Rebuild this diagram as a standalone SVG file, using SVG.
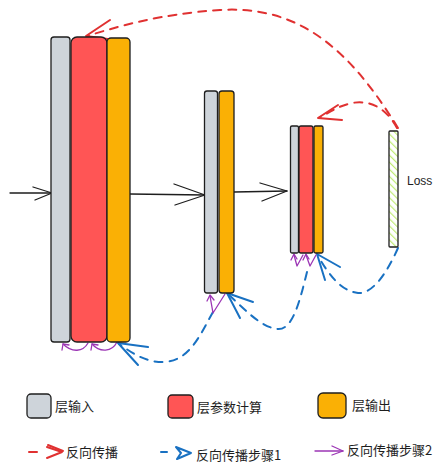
<svg xmlns="http://www.w3.org/2000/svg" width="444" height="475" viewBox="0 0 444 475">
<style>
.box{stroke:#1e1e1e;stroke-width:1.3;stroke-linejoin:round}
.gray{fill:#ced4da}
.red{fill:#ff5555}
.orange{fill:#fab005}
.hatch{fill:url(#hatch)}
.blk{fill:none;stroke:#1e1e1e;stroke-width:1.3;stroke-linecap:round;stroke-linejoin:round}
.rd{fill:none;stroke:#e03131;stroke-width:2;stroke-linecap:round;stroke-dasharray:8 7}
.rh{fill:none;stroke:#e03131;stroke-width:2;stroke-linecap:round;stroke-linejoin:round}
.bd{fill:none;stroke:#1971c2;stroke-width:2;stroke-linecap:round;stroke-dasharray:8 7}
.bh{fill:none;stroke:#1971c2;stroke-width:2;stroke-linecap:round;stroke-linejoin:round}
.pp{fill:none;stroke:#9c36b5;stroke-width:1.3;stroke-linecap:round;stroke-linejoin:round}
.cjk{font-family:"Noto Sans CJK SC","Liberation Sans",sans-serif;font-size:13px;fill:#1e1e1e}
.lbl{font-family:"Liberation Sans","DejaVu Sans",sans-serif;font-size:12px;fill:#1e1e1e}
</style>
<defs>
<pattern id="hatch" patternUnits="userSpaceOnUse" width="5" height="5" patternTransform="rotate(-45)">
<rect width="5" height="5" fill="#ffffff"/>
<line x1="0" y1="0" x2="0" y2="5" stroke="#c0eb75" stroke-width="2.4"/>
</pattern>
</defs>
<rect width="444" height="475" fill="#ffffff"/>

<g id="connectors">
<!-- forward arrows -->
<g id="fwd-in"><path class="blk" d="M10,193 L52,193"/><path class="blk" d="M33,187 L52,193 L35,200"/></g>
<g id="fwd-1-2"><path class="blk" d="M130,194 L205,195"/><path class="blk" d="M174,184 L205,195 L175,205"/></g>
<g id="fwd-2-3"><path class="blk" d="M234,192 L287,191"/><path class="blk" d="M260,183 L287,191 L262,201"/></g>
<!-- red backprop -->
<g id="bp-loss-l1"><path class="rd" d="M398,128 C350,50 300,5 220,10 C160,14 120,26 87,36"/><path class="rh" d="M110,20 L86,36 L115,40"/></g>
<g id="bp-loss-l3"><path class="rd" d="M397,128 C385,106 368,100 352,103 C338,106 330,112 319,118"/><path class="rh" d="M338,105 L318,118 L342,120"/></g>
<!-- blue step 1 -->
<g id="s1-loss-l3"><path class="bd" d="M398,248 C386,275 372,294 358,293 C341,291 329,275 318,256"/><path class="bh" d="M340,267 L317,254 L325,280"/></g>
<g id="s1-l3-l2"><path class="bd" d="M307,272 C300,300 293,330 278,329 C262,328 245,310 228,294"/><path class="bh" d="M253,302 L227,293 L240,318"/></g>
<g id="s1-l2-l1"><path class="bd" d="M213,312 C200,335 190,360 165,362 C145,363 131,352 119,344"/><path class="bh" d="M148,347 L118,343 L138,365"/></g>
<!-- purple step 2 -->
<g id="s2-l1"><path class="pp" d="M117,342 C112,352 100,353 92,344"/><path class="pp" d="M91,350 L92,344 L98,345"/><path class="pp" d="M88,343 C83,352 72,353 63,344"/><path class="pp" d="M62,350 L63,344 L69,345"/></g>
<g id="s2-l2"><path class="pp" d="M225,294 L213,313 L210,296"/><path class="pp" d="M207,301 L210,295 L214,300"/></g>
<g id="s2-l3"><path class="pp" d="M316,255 L310,266 L306,255"/><path class="pp" d="M303,260 L306,254 L309,259"/><path class="pp" d="M303,255 L297,266 L294,255"/><path class="pp" d="M291,260 L294,254 L297,259"/></g>
</g>

<g id="layer1-input"><rect class="box gray" x="51" y="37" width="19" height="305" rx="3"/></g>
<g id="layer1-param"><rect class="box red" x="71" y="37" width="36" height="305" rx="6"/></g>
<g id="layer1-output"><rect class="box orange" x="107" y="38" width="23" height="304" rx="4"/></g>

<g id="layer2-input"><rect class="box gray" x="204.5" y="91" width="13" height="202" rx="2.5"/></g>
<g id="layer2-output"><rect class="box orange" x="219" y="91" width="15" height="202" rx="3"/></g>

<g id="layer3-input"><rect class="box gray" x="290.5" y="126" width="8" height="127" rx="1.5"/></g>
<g id="layer3-param"><rect class="box red" x="299" y="126" width="14" height="127" rx="2"/></g>
<g id="layer3-output"><rect class="box orange" x="314" y="126" width="9" height="127" rx="1.5"/></g>

<g id="loss"><rect class="box hatch" x="389" y="131" width="9" height="116" rx="1"/><text class="lbl" x="407" y="185">Loss</text></g>

<g id="legend">
<g id="lg-input"><rect class="box gray" x="27" y="394" width="24" height="24" rx="4"/><text class="cjk" x="55" y="411">层输入</text></g>
<g id="lg-param"><rect class="box red" x="168" y="395" width="25" height="23" rx="4"/><text class="cjk" x="197" y="412">层参数计算</text></g>
<g id="lg-output"><rect class="box orange" x="318" y="393" width="28" height="25" rx="5"/><text class="cjk" x="352" y="410">层输出</text></g>
<g id="lg-bp"><path class="rh" d="M29,452 L37,452"/><path class="rh" d="M47,447 L62,452 L47,458"/><path class="rh" d="M48,445 L63,451"/><text class="cjk" x="66" y="457">反向传播</text></g>
<g id="lg-s1"><path class="bh" d="M161,452 L167,452"/><path class="bh" d="M176,447 L191,453 L177,459 L181,453 Z" fill="#1971c2"/><text class="cjk" x="196" y="460">反向传播步骤1</text></g>
<g id="lg-s2"><path class="pp" d="M315,451 L343,451"/><path class="pp" d="M332,446 L343,451 L332,455"/><text class="cjk" x="347" y="455">反向传播步骤2</text></g>
</g>
</svg>
